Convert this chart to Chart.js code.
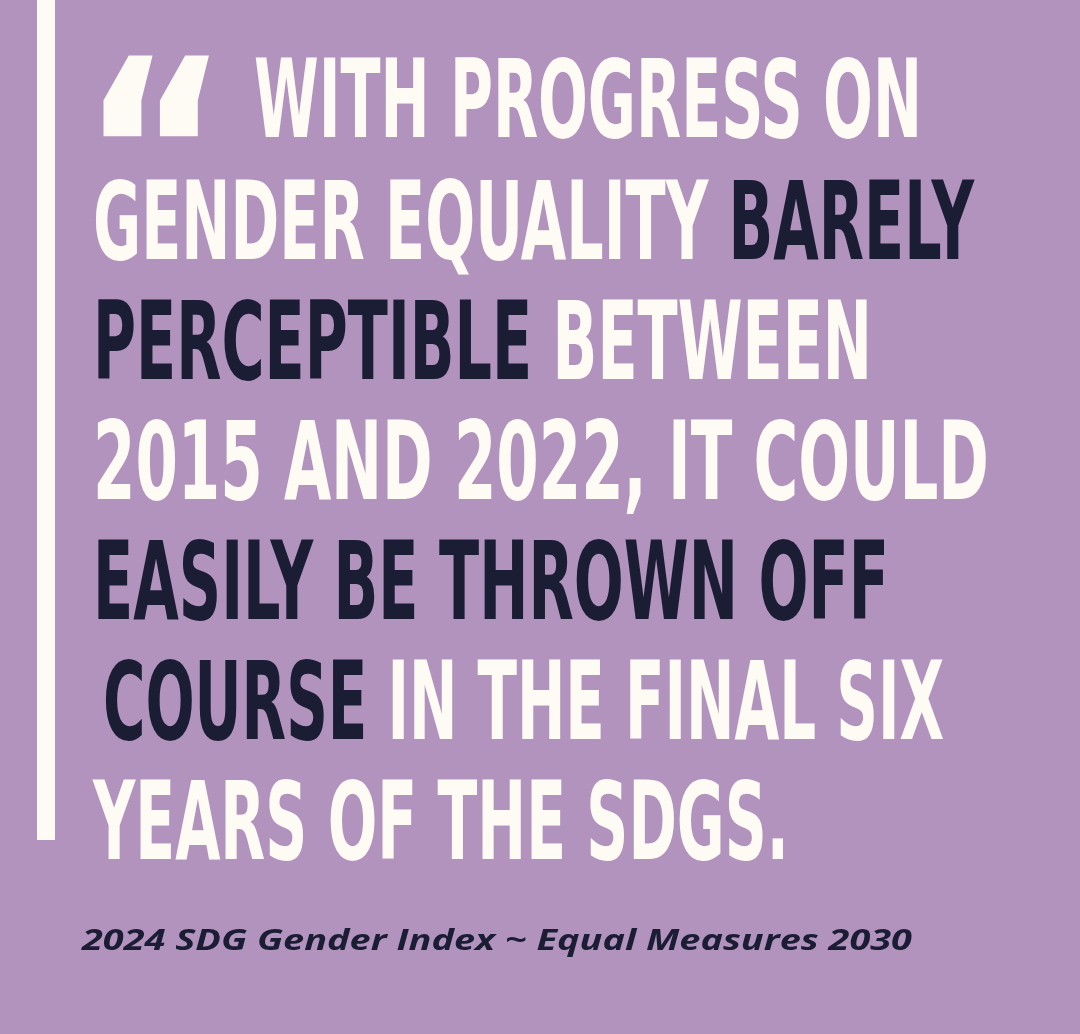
<!DOCTYPE html>
<html><head><meta charset="utf-8">
<script src="https://cdn.jsdelivr.net/npm/chart.js@4"></script>
<style>
html,body{margin:0;padding:0;width:1080px;height:1034px;background:#b293bd;overflow:hidden}
#c{position:absolute;left:0;top:0}
.ln{position:absolute;font-family:"DejaVu Sans Condensed","DejaVu Sans";font-weight:bold;font-size:108px;line-height:108px;white-space:nowrap;color:#fdfbf3;transform-origin:0 0}
.d{color:#1a1d33}
#bar{position:absolute;left:37px;top:0;width:18px;height:840px;background:#fdfbf3}
#src{position:absolute;left:82px;top:920px;font-family:"Open Sans","DejaVu Sans";font-weight:bold;font-style:italic;font-size:28px;color:#1a1d33;white-space:nowrap;transform-origin:0 0}
</style></head><body>
<canvas id="c" width="1080" height="1034"></canvas>
<div id="bar"></div>
<div id="q" class="ln" style="font-size:260px;line-height:260px;font-family:'DejaVu Sans';">“</div>
<div id="lines"></div>
<div id="src">2024 SDG Gender Index ~ Equal Measures 2030</div>
<script>
const quoteLines = [
  [["WITH PROGRESS ON",0]],
  [["GENDER EQUALITY ",0],["BARELY",1]],
  [["PERCEPTIBLE",1],[" BETWEEN",0]],
  [["2015 AND 2022, IT COULD",0]],
  [["EASILY BE THROWN OFF",1]],
  [["COURSE",1],[" IN THE FINAL SIX",0]],
  [["YEARS OF THE SDGS.",0]]
];
const lineBoxes = [[258,918,58],[97,970,180],[97,868,300],[97,985,420],[97,885,540],[107,940,660],[97,785,780]];
new Chart(document.getElementById('c'),{type:'bar',data:{labels:[],datasets:[]},
  options:{responsive:false,animation:false,plugins:{legend:{display:false},tooltip:{enabled:false}},
  scales:{x:{display:false},y:{display:false}}}});
const host=document.getElementById('lines');
quoteLines.forEach((parts,i)=>{
  const d=document.createElement('div');d.className='ln';
  parts.forEach(([t,dark])=>{const s=document.createElement('span');s.textContent=t;if(dark)s.className='d';d.appendChild(s);});
  host.appendChild(d);
  const [x0,x1,top]=lineBoxes[i];
  const w=d.getBoundingClientRect().width;
  d.style.left=(x0-4)+'px';d.style.top=(top-12)+'px';
  d.style.transform='scaleX('+((x1-x0+8)/w)+')';
});
const q=document.getElementById('q');
const qw=q.getBoundingClientRect().width;
q.style.left='80px';q.style.top='25px';
q.style.transform='scale('+(150/qw)+',1)';
const s=document.getElementById('src');
s.style.transform='scaleX('+(830/s.getBoundingClientRect().width)+')';
</script>
</body></html>
